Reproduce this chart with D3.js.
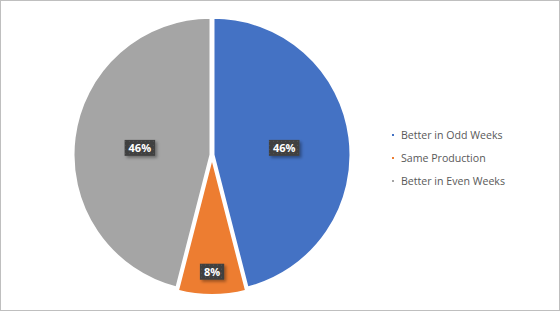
<!DOCTYPE html>
<html><head><meta charset="utf-8">
<script src="https://cdn.jsdelivr.net/npm/d3@7"></script>
<style>
html,body{margin:0;padding:0;background:#fff;}
svg{display:block;}
</style></head>
<body>
<script>
const categories = ["Better in Odd Weeks", "Same Production", "Better in Even Weeks"];
const values = [46, 8, 46];
const colors = ["#4472c4", "#ed7d31", "#a5a5a5"];

const W = 560, H = 311;
const cx = 212, cy = 155, R = 137;
const svg = d3.select("body").append("svg").attr("width", W).attr("height", H);

svg.append("rect").attr("x", 0.5).attr("y", 0.5).attr("width", W - 1).attr("height", H - 1)
  .attr("fill", "#fff").attr("stroke", "#bfbfbf");

const defs = svg.append("defs");
const pat = defs.append("pattern").attr("id", "dots").attr("width", 4).attr("height", 4)
  .attr("patternUnits", "userSpaceOnUse");
pat.append("rect").attr("width", 4).attr("height", 4).attr("fill", "#404040");
pat.append("rect").attr("x", 1).attr("y", 1).attr("width", 1).attr("height", 1).attr("fill", "#555");
const f = defs.append("filter").attr("id", "sh").attr("x", "-30%").attr("y", "-30%").attr("width", "160%").attr("height", "160%");
f.append("feDropShadow").attr("dx", 2).attr("dy", 2).attr("stdDeviation", 1.5).attr("flood-color", "#000").attr("flood-opacity", 0.35);

const pie = d3.pie().sort(null).value(d => d)(values);
const arc = d3.arc().innerRadius(0).outerRadius(R);
const explode = [1.5, 3, 1.5];
const labelR = [0.52, 0.83, 0.52];
const labelDy = [2, 0, 2];
const total = d3.sum(values);

const g = svg.append("g").attr("transform", `translate(${cx},${cy})`);
pie.forEach((d, i) => {
  const mid = (d.startAngle + d.endAngle) / 2;
  const ox = Math.sin(mid) * explode[i], oy = -Math.cos(mid) * explode[i];
  const sg = g.append("g").attr("transform", `translate(${ox},${oy})`);
  sg.append("path").attr("d", arc(d)).attr("fill", colors[i])
    .attr("stroke", "#fff").attr("stroke-width", 2).attr("stroke-linejoin", "round");
});
pie.forEach((d, i) => {
  const mid = (d.startAngle + d.endAngle) / 2;
  const r = R * labelR[i] + explode[i];
  const lx = Math.sin(mid) * r, ly = -Math.cos(mid) * r + labelDy[i];
  const txt = d3.format(".0%")(d.value / total);
  const lg = g.append("g").attr("transform", `translate(${lx},${ly})`);
  const t = lg.append("text").attr("text-anchor", "middle").attr("dy", "0.36em")
    .attr("fill", "#fff").attr("font-family", "'Open Sans', 'DejaVu Sans', sans-serif")
    .attr("font-weight", "bold").attr("font-size", "11px").text(txt);
  const bb = t.node().getBBox();
  lg.insert("rect", "text").attr("x", bb.x - 4).attr("y", -8).attr("width", bb.width + 8).attr("height", 16)
    .attr("fill", "url(#dots)").attr("filter", "url(#sh)");
});

const leg = svg.append("g").attr("transform", "translate(393,135)");
categories.forEach((c, i) => {
  const row = leg.append("g").attr("transform", `translate(0,${i * 23})`);
  row.append("rect").attr("x", -1).attr("y", -1).attr("width", 2).attr("height", 2).attr("fill", colors[i]);
  row.append("text").attr("x", 8).attr("dy", "0.35em").attr("fill", "#595959")
    .attr("font-family", "'Open Sans', 'DejaVu Sans', sans-serif").attr("font-size", "10.6px").text(c);
});
</script>
</body></html>
